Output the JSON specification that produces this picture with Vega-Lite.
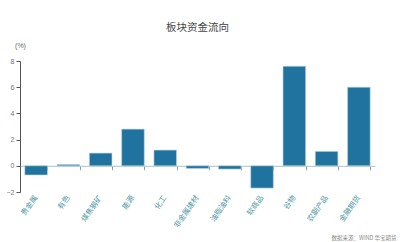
{
  "$schema": "https://vega.github.io/schema/vega-lite/v6.json",
  "width": 355,
  "height": 131,
  "autosize": "none",
  "padding": {"left": 20, "top": 61, "right": 30, "bottom": 50},
  "background": "white",
  "title": {"text": "板块资金流向", "fontSize": 10.5, "fontWeight": "normal", "color": "#444444", "font": "Noto Sans CJK SC", "offset": 8, "anchor": "middle"},
  "config": {"view": {"stroke": null}, "font": "Liberation Sans"},
  "data": {"values": [
    {"sector": "贵金属", "value": -0.7},
    {"sector": "有色", "value": 0.1},
    {"sector": "煤焦钢矿", "value": 0.97},
    {"sector": "能源", "value": 2.8},
    {"sector": "化工", "value": 1.2},
    {"sector": "非金属建材", "value": -0.2},
    {"sector": "油脂油料", "value": -0.25},
    {"sector": "软商品", "value": -1.7},
    {"sector": "谷物", "value": 7.6},
    {"sector": "农副产品", "value": 1.1},
    {"sector": "金融期货", "value": 6.0}
  ]},
  "resolve": {"axis": {"x": "independent"}},
  "layer": [
    {
      "mark": {"type": "bar", "color": "#21739f", "stroke": "#b9d3e0", "strokeWidth": 0.6},
      "encoding": {
        "x": {"field": "sector", "type": "nominal", "sort": null, "scale": {"paddingInner": 0.3, "paddingOuter": 0.15},
          "axis": {"orient": "bottom", "labels": false, "title": null, "domainColor": "#a9c4c8", "tickColor": "#7fa9b0", "tickSize": 4, "tickBand": "extent", "offset": -26.2}},
        "y": {"field": "value", "type": "quantitative", "scale": {"domain": [-2, 8], "nice": false},
          "axis": {"values": [-2, 0, 2, 4, 6, 8], "labelOverlap": false, "grid": false, "domainColor": "#555555", "tickColor": "#555555", "tickSize": 4, "labelFontSize": 7, "labelColor": "#777777", "labelPadding": 2,
            "title": "(%)", "titleAngle": 0, "titleX": 0, "titleY": -16, "titleAlign": "center", "titleBaseline": "middle", "titleFontSize": 7, "titleFontWeight": "normal", "titleColor": "#666666"}}
      }
    },
    {
      "mark": {"type": "bar", "opacity": 0},
      "encoding": {
        "x": {"field": "sector", "type": "nominal", "sort": null,
          "axis": {"orient": "bottom", "domain": false, "ticks": false, "labelAngle": -55, "labelFontSize": 7.5, "labelColor": "#4f97a6", "labelFont": "Noto Sans CJK SC", "labelPadding": 4,
            "title": "数据来源：WIND 华宝期货", "titleX": 376, "titleY": 45, "titleAlign": "right", "titleBaseline": "middle", "titleFontSize": 5.5, "titleFontWeight": "normal", "titleColor": "#888888", "titleFont": "Noto Sans CJK SC"}}
      }
    }
  ]
}
